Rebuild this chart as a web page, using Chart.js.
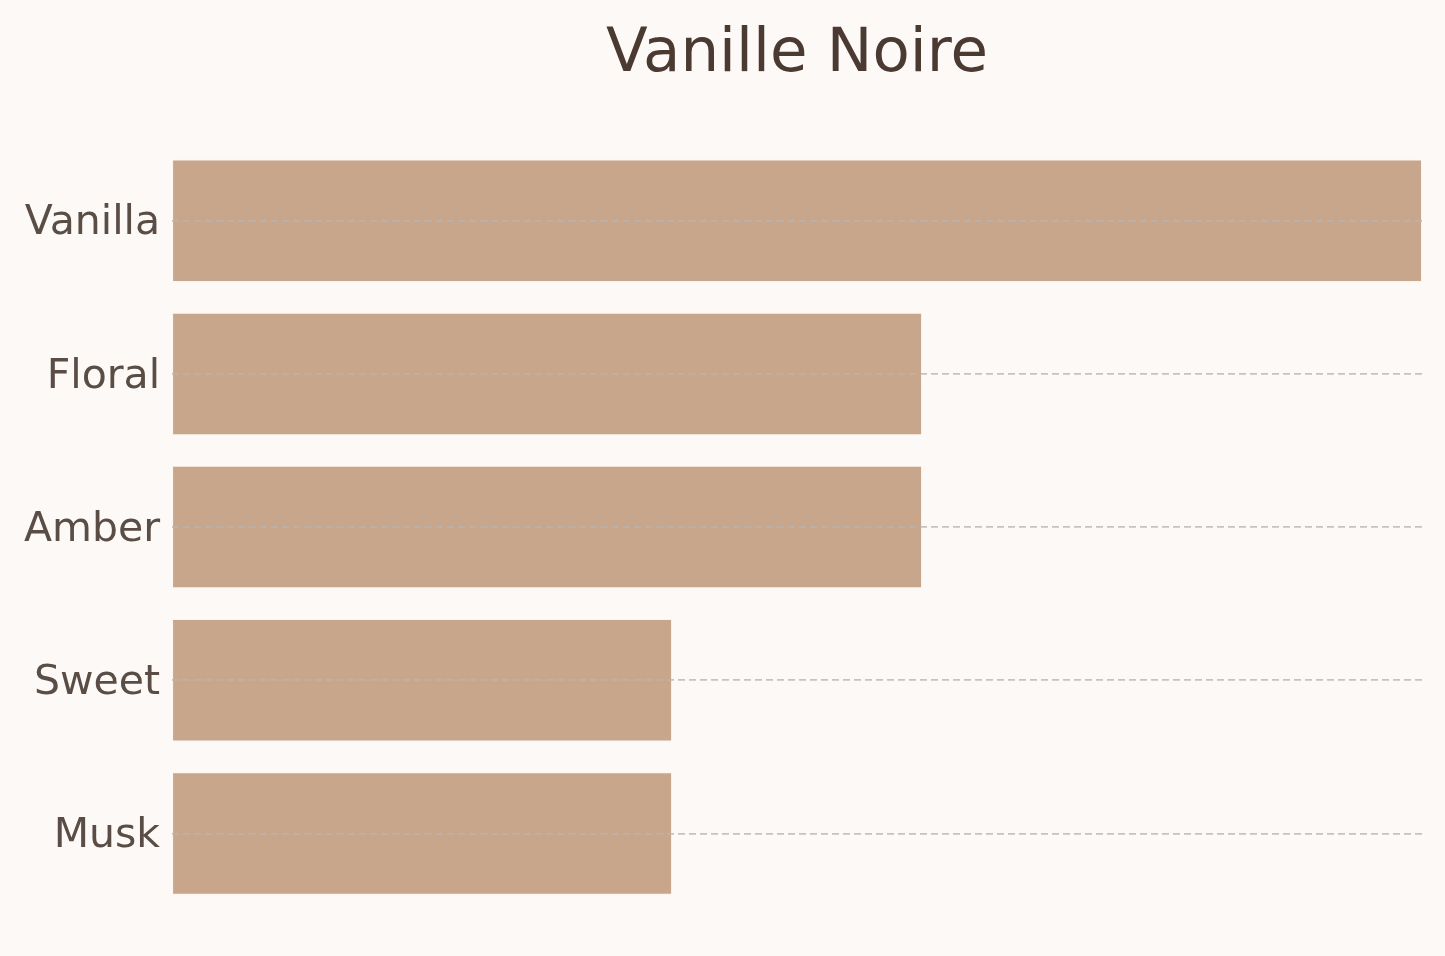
<!DOCTYPE html>
<html>
<head>
<meta charset="utf-8">
<script src="https://cdn.jsdelivr.net/npm/chart.js@4"></script>
<style>
  html, body { margin: 0; padding: 0; background: #fcf9f6; }
  #wrap { width: 1445px; height: 956px; position: relative; }
</style>
</head>
<body>
<div id="wrap"><canvas id="notes-chart"></canvas></div>
<script>
const notes = ["Vanilla", "Floral", "Amber", "Sweet", "Musk"];
const intensity = [5, 3, 3, 2, 2];
const chartTitle = "Vanille Noire";

document.addEventListener("DOMContentLoaded", function() {
    const ctx = document.getElementById('notes-chart').getContext('2d');
    new Chart(ctx, {
        type: 'bar',
        data: {
            labels: notes,
            datasets: [{
                data: intensity,
                backgroundColor: '#c8a68b',
                borderColor: '#fbf3ec',
                borderWidth: 1,
                borderSkipped: false,
                barPercentage: 0.8,
                categoryPercentage: 1.0
            }]
        },
        options: {
            indexAxis: 'y',
            responsive: true,
            maintainAspectRatio: false,
            animation: false,
            layout: {
                padding: { left: 12, right: 23, bottom: 46, top: 0 }
            },
            plugins: {
                legend: { display: false },
                tooltip: { enabled: false },
                title: {
                    display: true,
                    text: chartTitle,
                    fullSize: false,
                    color: '#4a3a31',
                    font: { family: 'DejaVu Sans', size: 61, weight: 'normal' },
                    padding: { top: 19, bottom: 52 }
                }
            },
            scales: {
                x: {
                    display: false,
                    min: 0,
                    max: 5
                },
                y: {
                    z: 1,
                    border: { display: false, dash: [7, 4] },
                    grid: {
                        z: 1,
                        offset: false,
                        drawTicks: false,
                        color: 'rgba(185, 180, 176, 0.8)',
                        lineWidth: 1.7
                    },
                    ticks: {
                        padding: 12,
                        labelOffset: 3,
                        color: '#5a4d45',
                        font: { family: 'DejaVu Sans', size: 41 }
                    }
                }
            }
        }
    });
});
</script>
</body>
</html>
